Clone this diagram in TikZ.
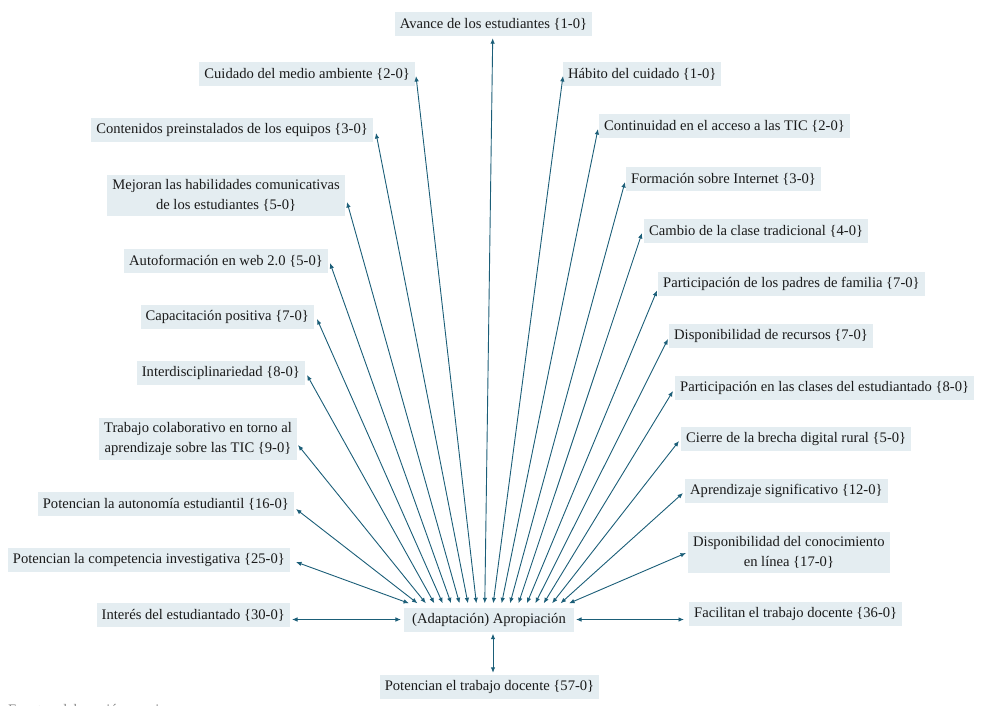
\documentclass[tikz,border=0pt]{standalone}
\usepackage{fontspec}
\setmainfont{Liberation Serif}
\usetikzlibrary{arrows.meta}
\definecolor{boxfill}{HTML}{E4EDF1}
\definecolor{arrowcol}{HTML}{1B5E78}
\definecolor{txt}{HTML}{1A1A1A}
\definecolor{foot}{HTML}{8A8A8A}
\begin{document}
\begin{tikzpicture}[x=1pt,y=-1pt,
  lab/.style={fill=boxfill, text=txt, font=\fontsize{14.6}{20}\selectfont, inner xsep=5pt, inner ysep=4pt, minimum height=24pt, align=center},
  link/.style={draw=arrowcol, line width=0.9pt, {Latex[length=5.5pt,width=4.5pt]}-{Latex[length=5.5pt,width=4.5pt]}}]
\useasboundingbox (0,0) rectangle (988,706);

% central node
\node[lab, inner xsep=8pt] (hub) at (489,619.5) {(Adaptación) Apropiación};

% top
\node[lab] (avan) at (493.5,24) {Avance de los estudiantes \{1-0\}};

% left side
\node[lab, anchor=east] (cuid) at (415,74) {Cuidado del medio ambiente \{2-0\}};
\node[lab, anchor=east] (cont) at (373,130) {Contenidos preinstalados de los equipos \{3-0\}};
\node[lab, anchor=east] (mejo) at (345,195.5) {Mejoran las habilidades comunicativas\\de los estudiantes \{5-0\}};
\node[lab, anchor=east] (autof) at (328,261) {Autoformación en web 2.0 \{5-0\}};
\node[lab, anchor=east] (capa) at (314,317) {Capacitación positiva \{7-0\}};
\node[lab, anchor=east] (inter) at (305,373) {Interdisciplinariedad \{8-0\}};
\node[lab, anchor=east] (trab) at (297,439) {Trabajo colaborativo en torno al\\aprendizaje sobre las TIC \{9-0\}};
\node[lab, anchor=east] (auto) at (294,504) {Potencian la autonomía estudiantil \{16-0\}};
\node[lab, anchor=east] (comp) at (290,560) {Potencian la competencia investigativa \{25-0\}};
\node[lab, anchor=east] (inte) at (290,615) {Interés del estudiantado \{30-0\}};

% right side
\node[lab, anchor=west] (habi) at (563,74) {Hábito del cuidado \{1-0\}};
\node[lab, anchor=west] (cont2) at (599,126) {Continuidad en el acceso a las TIC \{2-0\}};
\node[lab, anchor=west] (form) at (626,179) {Formación sobre Internet \{3-0\}};
\node[lab, anchor=west] (camb) at (644,231) {Cambio de la clase tradicional \{4-0\}};
\node[lab, anchor=west] (padr) at (658,283.5) {Participación de los padres de familia \{7-0\}};
\node[lab, anchor=west] (recu) at (669,336) {Disponibilidad de recursos \{7-0\}};
\node[lab, anchor=west] (clas) at (675,387.5) {Participación en las clases del estudiantado \{8-0\}};
\node[lab, anchor=west] (cier) at (681,439) {Cierre de la brecha digital rural \{5-0\}};
\node[lab, anchor=west] (apre) at (685,491) {Aprendizaje significativo \{12-0\}};
\node[lab, anchor=west] (cono) at (688,552.5) {Disponibilidad del conocimiento\\en línea \{17-0\}};
\node[lab, anchor=west] (faci) at (689,614) {Facilitan el trabajo docente \{36-0\}};

% bottom
\node[lab] (pdoc) at (489.5,687) {Potencian el trabajo docente \{57-0\}};

% footnote (cut by the page edge, as in the reference)
\node[anchor=base west, inner sep=0pt, text=foot, font=\fontsize{14.6}{16}\selectfont] (fuente) at (8,714.5) {Fuente: elaboración propia};

% ports on the top side of the hub
\foreach \n [count=\i from 0] in {comp,auto,trab,inter,capa,autof,mejo,cont,cuid,avan,habi,cont2,form,camb,padr,recu,clas,cier,apre,cono}{
  \path (hub.north) ++({-80+\i*160/19},-4) coordinate (h\n);
}

% fan connectors
\draw[link] ([shift={(1pt,-2pt)}]cuid.east) -- (hcuid);
\draw[link] ([shift={(3pt,-3pt)}]cont.east) -- (hcont);
\draw[link] ([shift={(2pt,-6.5pt)}]mejo.east) -- (hmejo);
\draw[link] ([shift={(2pt,-2pt)}]autof.east) -- (hautof);
\draw[link] ([shift={(3pt,-2pt)}]capa.east) -- (hcapa);
\draw[link] ([shift={(2pt,-2pt)}]inter.east) -- (hinter);
\draw[link] ([shift={(1pt,-6pt)}]trab.east) -- (htrab);
\draw[link] ([shift={(2pt,-5pt)}]auto.east) -- (hauto);
\draw[link] ([shift={(6pt,-2pt)}]comp.east) -- (hcomp);
\draw[link] ([shift={(-0.8pt,-2pt)}]avan.south) -- (havan);
\draw[link] ([shift={(0pt,-2pt)}]habi.west) -- (hhabi);
\draw[link] ([shift={(-1pt,-3pt)}]cont2.west) -- (hcont2);
\draw[link] ([shift={(-1pt,-3pt)}]form.west) -- (hform);
\draw[link] ([shift={(-2pt,-2pt)}]camb.west) -- (hcamb);
\draw[link] ([shift={(-1pt,-7pt)}]padr.west) -- (hpadr);
\draw[link] ([shift={(-1pt,-3pt)}]recu.west) -- (hrecu);
\draw[link] ([shift={(-2pt,-3.5pt)}]clas.west) -- (hclas);
\draw[link] ([shift={(-2pt,-2pt)}]cier.west) -- (hcier);
\draw[link] ([shift={(-2pt,-2pt)}]apre.west) -- (hapre);
\draw[link] ([shift={(-2pt,-0.5pt)}]cono.west) -- (hcono);

% horizontal and vertical connectors
\draw[link] ([xshift=2pt]inte.east |- hub.west) -- ([xshift=-3pt]hub.west);
\draw[link] ([xshift=2pt]hub.east) -- ([xshift=-5pt]faci.west |- hub.east);
\draw[link] ([shift={(4pt,-2pt)}]hub.south) -- ([shift={(3.5pt,2pt)}]pdoc.north);
\end{tikzpicture}
\end{document}
